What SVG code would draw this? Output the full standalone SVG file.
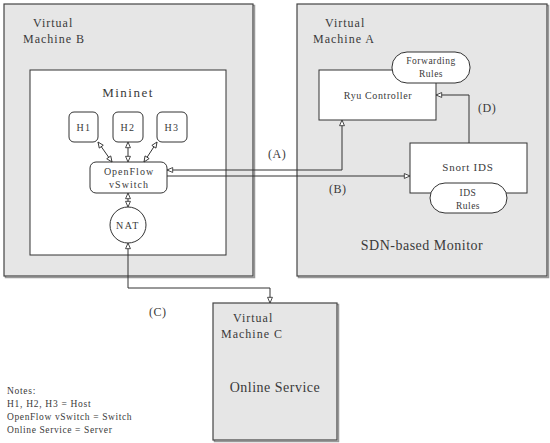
<svg xmlns="http://www.w3.org/2000/svg" width="550" height="443" viewBox="0 0 550 443">
<style>
.vm{fill:#e6e6e6;stroke:#444;stroke-width:1.2}
.sh{fill:none;stroke:#999;stroke-width:1.5}
.box{fill:#fff;stroke:#333;stroke-width:1}
.t{font-family:"Liberation Serif",serif;fill:#3a3a3a}
.m{text-anchor:middle}
.c{stroke:#333;stroke-width:1;fill:none}
</style>
<defs>
<marker id="ah" viewBox="0 0 8 8" refX="7.5" refY="4" markerWidth="7" markerHeight="7" orient="auto-start-reverse" markerUnits="userSpaceOnUse">
<path d="M1,1.2 L7.5,4 L1,6.8 Z" fill="#fff" stroke="#333" stroke-width="1"/>
</marker>
</defs>
<rect x="0" y="0" width="550" height="443" fill="#fff"/>

<g id="vm-b">
<rect class="sh" x="5.5" y="5.5" width="249" height="272"/>
<rect class="vm" x="4" y="4" width="249" height="272"/>
<text class="t" x="33" y="27" font-size="12" letter-spacing="1">Virtual</text>
<text class="t" x="23" y="43" font-size="12" letter-spacing="1">Machine B</text>
</g>
<g id="mininet">
<rect class="box" x="30" y="70" width="196" height="185"/>
<text class="t m" x="128" y="97" font-size="13" letter-spacing="1.5">Mininet</text>
</g>
<g id="h1">
<rect class="box" x="69" y="112" width="29" height="30" rx="5"/>
<text class="t m" x="84" y="131" font-size="10" letter-spacing="1.5">H1</text>
</g>
<g id="h2">
<rect class="box" x="113" y="112" width="30" height="30" rx="5"/>
<text class="t m" x="128" y="131" font-size="10" letter-spacing="1.5">H2</text>
</g>
<g id="h3">
<rect class="box" x="157" y="112" width="30" height="30" rx="5"/>
<text class="t m" x="172" y="131" font-size="10" letter-spacing="1.5">H3</text>
</g>
<g id="switch">
<rect class="box" x="90" y="162" width="77" height="31" rx="6"/>
<text class="t m" x="129" y="175" font-size="10" letter-spacing="1">OpenFlow</text>
<text class="t m" x="129" y="188" font-size="10" letter-spacing="1">vSwitch</text>
</g>
<g id="nat">
<circle class="box" cx="128" cy="225" r="18"/>
<text class="t m" x="128" y="229" font-size="10" letter-spacing="1.5">NAT</text>
</g>

<g id="vm-a">
<rect class="sh" x="298.5" y="5.5" width="250" height="272"/>
<rect class="vm" x="297" y="4" width="250" height="272"/>
<text class="t" x="325" y="27" font-size="12" letter-spacing="1">Virtual</text>
<text class="t" x="313" y="43" font-size="12" letter-spacing="1">Machine A</text>
<text class="t m" x="422" y="250" font-size="14" letter-spacing="0.5">SDN-based Monitor</text>
</g>
<g id="ryu">
<rect class="box" x="319" y="70" width="117" height="50"/>
<text class="t m" x="378" y="99" font-size="10" letter-spacing="0.6">Ryu Controller</text>
</g>
<g id="forwarding-rules">
<rect class="box" x="392" y="52" width="78" height="31" rx="15"/>
<text class="t m" x="431" y="64" font-size="9.5" letter-spacing="0.5">Forwarding</text>
<text class="t m" x="431" y="77" font-size="9.5" letter-spacing="0.5">Rules</text>
</g>
<g id="snort">
<rect class="box" x="410" y="143" width="117" height="50"/>
<text class="t m" x="468" y="171" font-size="11" letter-spacing="0.8">Snort IDS</text>
</g>
<g id="ids-rules">
<rect class="box" x="430" y="183" width="77" height="30" rx="15"/>
<text class="t m" x="468" y="196" font-size="9.5" letter-spacing="0.5">IDS</text>
<text class="t m" x="468" y="209" font-size="9.5" letter-spacing="0.5">Rules</text>
</g>

<g id="vm-c">
<rect class="sh" x="214.5" y="304.5" width="124" height="137"/>
<rect class="vm" x="213" y="303" width="124" height="137"/>
<text class="t" x="233" y="322" font-size="12" letter-spacing="1">Virtual</text>
<text class="t" x="221" y="338" font-size="12" letter-spacing="1">Machine C</text>
<text class="t m" x="275" y="392" font-size="14" letter-spacing="0.5">Online Service</text>
</g>

<g id="connectors">
<line class="c" x1="98" y1="142" x2="112" y2="162" marker-start="url(#ah)" marker-end="url(#ah)"/>
<line class="c" x1="128" y1="142" x2="128" y2="162" marker-start="url(#ah)" marker-end="url(#ah)"/>
<line class="c" x1="157" y1="142" x2="144" y2="162" marker-start="url(#ah)" marker-end="url(#ah)"/>
<line class="c" x1="128" y1="193" x2="128" y2="207" marker-start="url(#ah)" marker-end="url(#ah)"/>
<polyline class="c" points="128,243 128,288 270,288 270,303" marker-start="url(#ah)" marker-end="url(#ah)"/>
<polyline class="c" points="167,170 342,170 342,120" marker-start="url(#ah)" marker-end="url(#ah)"/>
<polyline class="c" points="167,176 410,176" marker-end="url(#ah)"/>
<polyline class="c" points="469,143 469,95 436,95" marker-end="url(#ah)"/>
</g>

<g id="labels">
<text class="t" x="268" y="158" font-size="12" letter-spacing="0.5">(A)</text>
<text class="t" x="329" y="193" font-size="12" letter-spacing="0.5">(B)</text>
<text class="t" x="149" y="316" font-size="12" letter-spacing="0.5">(C)</text>
<text class="t" x="478" y="112" font-size="12" letter-spacing="0.5">(D)</text>
</g>

<g id="notes">
<text class="t" x="7" y="394" font-size="9.5" letter-spacing="0.7">Notes:</text>
<text class="t" x="7" y="407" font-size="9.5" letter-spacing="0.7">H1, H2, H3 = Host</text>
<text class="t" x="7" y="420" font-size="9.5" letter-spacing="0.6">OpenFlow vSwitch = Switch</text>
<text class="t" x="7" y="433" font-size="9.5" letter-spacing="0.6">Online Service = Server</text>
</g>
</svg>
